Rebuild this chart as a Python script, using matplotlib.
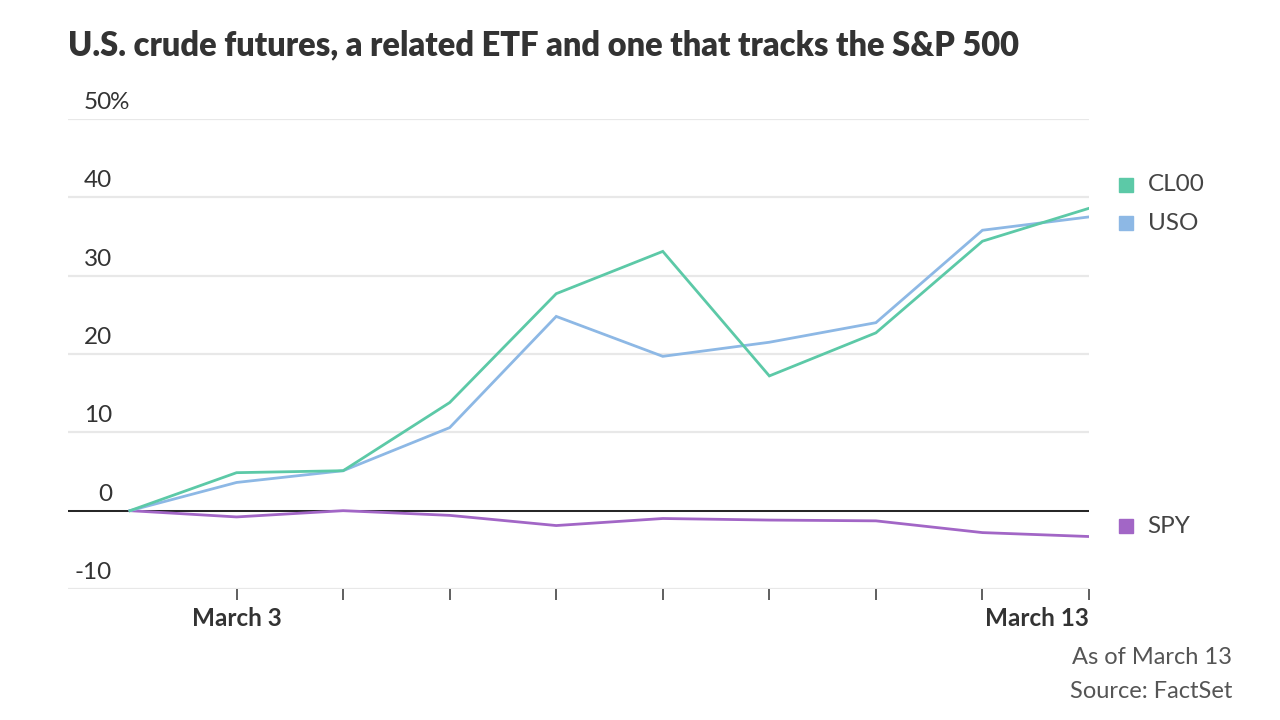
import numpy as np
import matplotlib.pyplot as plt
import matplotlib.transforms as mtransforms

plt.rcParams['font.family'] = ['Lato', 'DejaVu Sans']

dates = ['Feb 28', 'March 3', 'March 4', 'March 5', 'March 6', 'March 7',
         'March 10', 'March 11', 'March 12', 'March 13']
cl00 = [0, 4.85, 5.1, 13.8, 27.7, 33.1, 17.2, 22.7, 34.4, 38.6]
uso = [0, 3.6, 5.1, 10.6, 24.8, 19.7, 21.5, 24.0, 35.8, 37.5]
spy = [0, -0.8, 0, -0.6, -1.9, -1.0, -1.2, -1.3, -2.8, -3.3]

series = [('CL00', cl00, '#5cc9a7'), ('USO', uso, '#8db8e5'), ('SPY', spy, '#a266c6')]
label_y = [41.6, 36.7, -2.0]  # legend positions, nudged apart
yticks = [-10, 0, 10, 20, 30, 40, 50]

fig = plt.figure(figsize=(12.8, 7.2), dpi=100)
ax = fig.add_axes([68 / 1280, 1 - 589 / 720, 1021 / 1280, 470 / 720])

x = np.arange(len(dates))
ax.set_xlim(-0.582, len(dates) - 1)
ax.set_ylim(-10, 50)

for y in yticks:
    ax.axhline(y, color='#e8e8e8', lw=1.6, zorder=0)
ax.axhline(0, color='#222222', lw=1.4, zorder=1)

for name, vals, col in series[::-1]:
    ax.plot(x, vals, color=col, lw=2.0, zorder=3, solid_joinstyle='miter')

for spine in ax.spines.values():
    spine.set_visible(False)
ax.set_yticks([])
ax.set_xticks(x[1:])
ax.set_xticklabels([])
ax.tick_params(axis='x', length=8, width=1.2, color='#444444', pad=4)

# y labels sit above their gridlines
trans = mtransforms.blended_transform_factory(ax.transAxes, ax.transData)
off = mtransforms.offset_copy(trans, fig=fig, x=0, y=6, units='dots')
xr = (112 - 68) / 1021
for y in yticks:
    ax.text(xr, y, str(y), transform=off, ha='right', va='bottom',
            fontsize=17.5, color='#333333')
pct = mtransforms.offset_copy(trans, fig=fig, x=-2, y=6, units='dots')
ax.text(xr, 50, '%', transform=pct, ha='left', va='bottom', fontsize=17.5, color='#333333')

# x labels
xl = mtransforms.offset_copy(ax.transData, fig=fig, y=-30, units='dots')
ax.text(x[1], -10, dates[1], transform=xl, ha='center', va='center',
        fontsize=17.5, fontweight='bold', color='#333333')
ax.text(x[-1], -10, dates[-1], transform=xl, ha='right', va='center',
        fontsize=17.5, fontweight='bold', color='#333333')

# legend labels at right
for (name, vals, col), ly in zip(series, label_y):
    ax.plot([len(dates) - 1 + 0.35], [ly], marker='s', ms=10, color=col, clip_on=False)
    ax.text(len(dates) - 1 + 0.55, ly, name, ha='left', va='center', fontsize=17.5,
            color='#444444', clip_on=False)

fig.text(68 / 1280, 1 - 45 / 720, 'U.S. crude futures, a related ETF and one that tracks the S&P 500',
         ha='left', va='center', fontsize=23.5, fontweight='heavy', color='#333333')
fig.text(1232 / 1280, 1 - 657 / 720, 'As of March 13', ha='right', va='center', fontsize=17, color='#555555')
fig.text(1232 / 1280, 1 - 691 / 720, 'Source: FactSet', ha='right', va='center', fontsize=17, color='#555555')

fig.savefig('out.png', dpi=100)
